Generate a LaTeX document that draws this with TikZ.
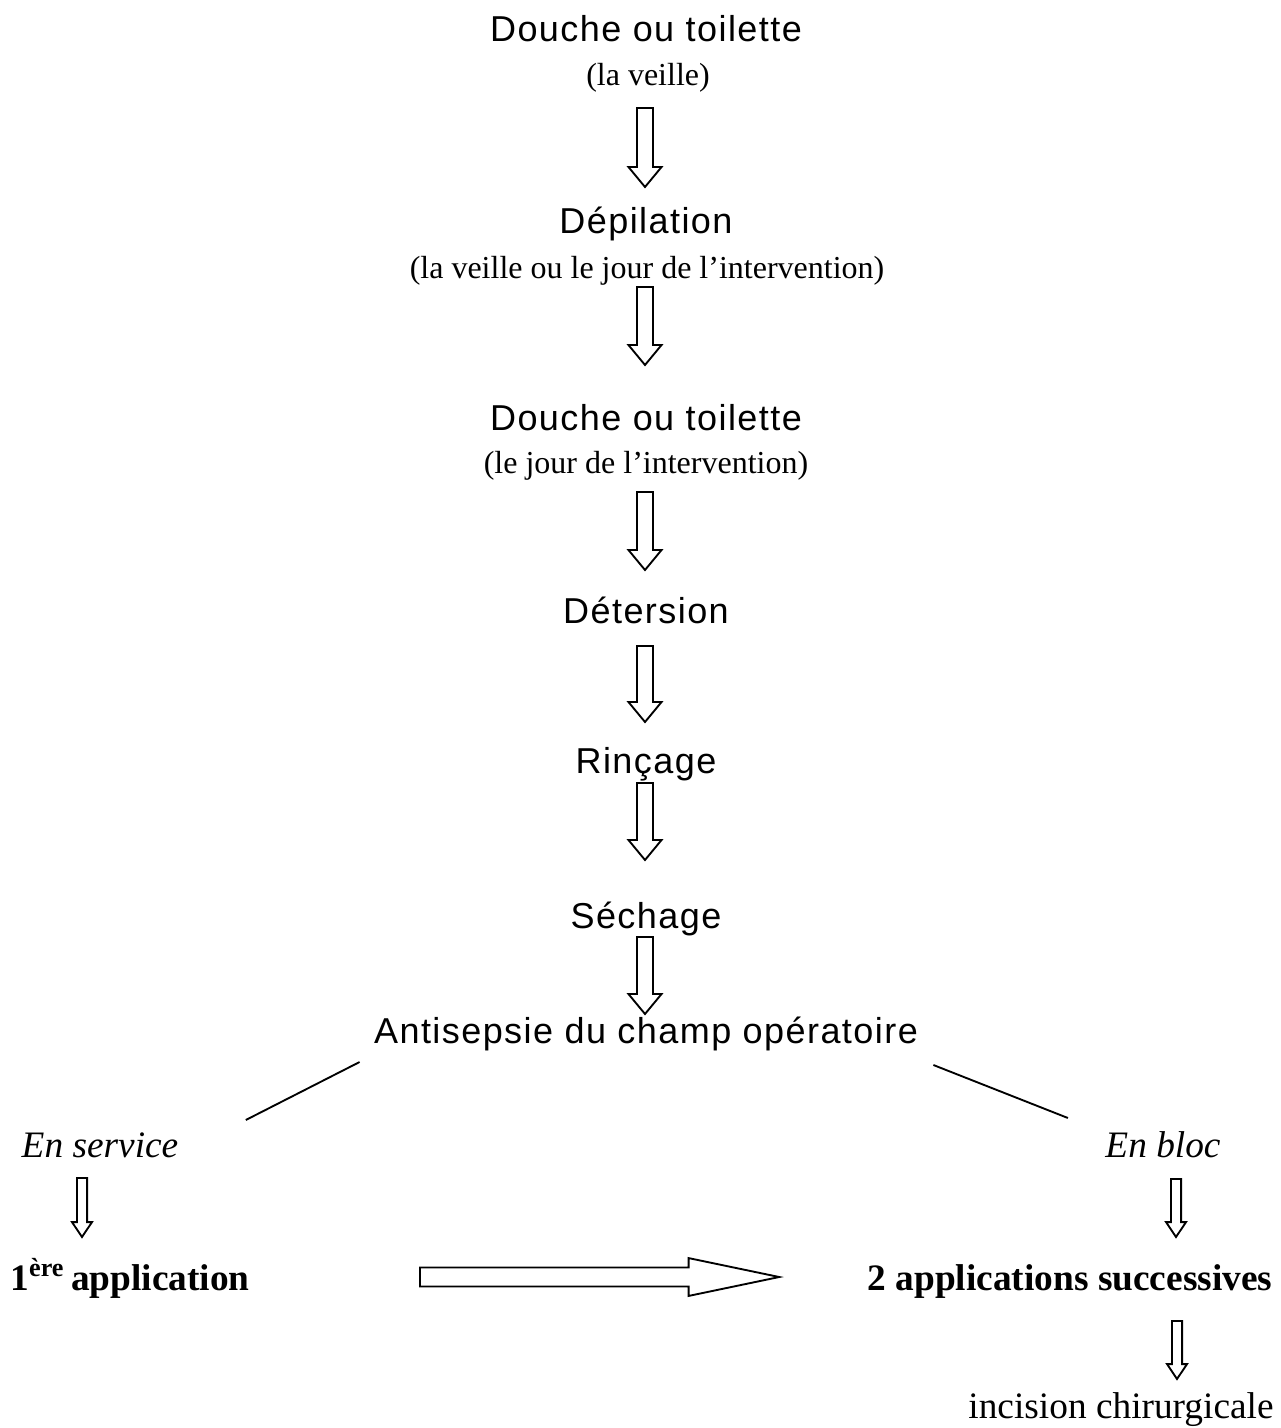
\documentclass[tikz,border=0pt]{standalone}
\usepackage{fontspec}
\setmainfont{Liberation Serif}
\newfontfamily\stepfont[LetterSpace=4]{Liberation Sans}
\usetikzlibrary{calc}

\tikzset{
    hollow/.style n args={3}{to path={
        ($(\tikztotarget)!#3!(\tikztostart)$) coordinate (hh)
        ($(\tikztostart)!#1!90:(\tikztotarget)$) -- ($(hh)!#1!90:(\tikztotarget)$)
        -- ($(hh)!#2!90:(\tikztotarget)$) -- (\tikztotarget)
        -- ($(hh)!#2!-90:(\tikztotarget)$) -- ($(hh)!#1!-90:(\tikztotarget)$)
        -- ($(\tikztostart)!#1!-90:(\tikztotarget)$) -- cycle}},
    bigdown/.style={draw, line width=0.7pt, hollow={3pt}{6.2pt}{7.5pt}},
    smalldown/.style={draw, line width=0.7pt, hollow={1.9pt}{3.75pt}{5.6pt}},
    longright/.style={draw, line width=0.7pt, hollow={3.56pt}{7.1pt}{34pt}},
    steptext/.style={font=\stepfont\fontsize{13.5}{15}\selectfont, inner sep=0pt, anchor=base},
    whentext/.style={font=\fontsize{12}{14}\selectfont, inner sep=0pt, anchor=base},
    placetext/.style={font=\itshape\fontsize{14}{16}\selectfont, inner sep=0pt, anchor=base},
    phasetext/.style={font=\bfseries\fontsize{14}{16}\selectfont, inner sep=0pt, anchor=base},
}

\begin{document}
\begin{tikzpicture}[x=0.375pt, y=-0.375pt]
    \useasboundingbox (0,0) rectangle (1280,1428);

    % main column
    \node[steptext] (dou1) at (646,41) {Douche ou toilette};
    \node[whentext] (veil1) at (648,85) {(la veille)};
    \node[steptext] (dep) at (646,233) {Dépilation};
    \node[whentext] (veil2) at (647,278) {(la veille ou le jour de l’intervention)};
    \node[steptext] (dou2) at (646,430) {Douche ou toilette};
    \node[whentext] (jour) at (646,473) {(le jour de l’intervention)};
    \node[steptext] (det) at (646,623) {Détersion};
    \node[steptext] (rin) at (646,773) {Rinçage};
    \node[steptext] (sec) at (646,928) {Séchage};
    \node[steptext] (anti) at (646,1043) {Antisepsie du champ opératoire};

    % two branches
    \node[placetext] (serv) at (100,1157) {En service};
    \node[placetext] (bloc) at (1163,1157) {En bloc};
    \node[phasetext] (app1) at (130,1290) {1\textsuperscript{ère}\,application};
    \node[phasetext] (app2) at (1070,1290) {2 applications successives};
    \node[whentext, font=\fontsize{14}{16}\selectfont] (inc) at (1121,1418) {incision chirurgicale};

    % arrow ends
    \coordinate (a1s) at ($(veil1.base)+(-3,23)$);
    \coordinate (a1e) at ($(dep.base)+(-1,-46)$);
    \coordinate (a2s) at ($(veil2.base)+(-2,9)$);
    \coordinate (a2e) at ($(dou2.base)+(-1,-65)$);
    \coordinate (a3s) at ($(jour.base)+(-1,19)$);
    \coordinate (a3e) at ($(det.base)+(-1,-53)$);
    \coordinate (a4s) at ($(det.base)+(-1,23)$);
    \coordinate (a4e) at ($(rin.base)+(-1,-51)$);
    \coordinate (a5s) at ($(rin.base)+(-1,10)$);
    \coordinate (a5e) at ($(sec.base)+(-1,-68)$);
    \coordinate (a6s) at ($(sec.base)+(-1,9)$);
    \coordinate (a6e) at ($(anti.base)+(-1,-29)$);
    \coordinate (ls) at ($(serv.base)+(-18,21)$);
    \coordinate (le) at ($(app1.base)+(-48,-53)$);
    \coordinate (rs) at ($(bloc.base)+(13,22)$);
    \coordinate (re) at ($(app2.base)+(106,-53)$);
    \coordinate (is) at ($(app2.base)+(107,31)$);
    \coordinate (ie) at ($(inc.base)+(56,-39)$);
    \coordinate (hs) at ($(app1.base east)+(170,-13)$);
    \coordinate (he) at ($(app2.base west)+(-88,-13)$);

    \draw[bigdown] (a1s) to (a1e);
    \draw[bigdown] (a2s) to (a2e);
    \draw[bigdown] (a3s) to (a3e);
    \draw[bigdown] (a4s) to (a4e);
    \draw[bigdown] (a5s) to (a5e);
    \draw[bigdown] (a6s) to (a6e);
    \draw[smalldown] (ls) to (le);
    \draw[smalldown] (rs) to (re);
    \draw[smalldown] (is) to (ie);
    \draw[longright] (hs) to (he);

    % split lines
    \draw[line width=0.7pt] ($(anti.base west)+(-14,19)$) -- ($(serv.base east)+(67,-37)$);
    \draw[line width=0.7pt] ($(anti.base east)+(15,22)$) -- ($(bloc.base west)+(-37,-39)$);
\end{tikzpicture}
\end{document}
